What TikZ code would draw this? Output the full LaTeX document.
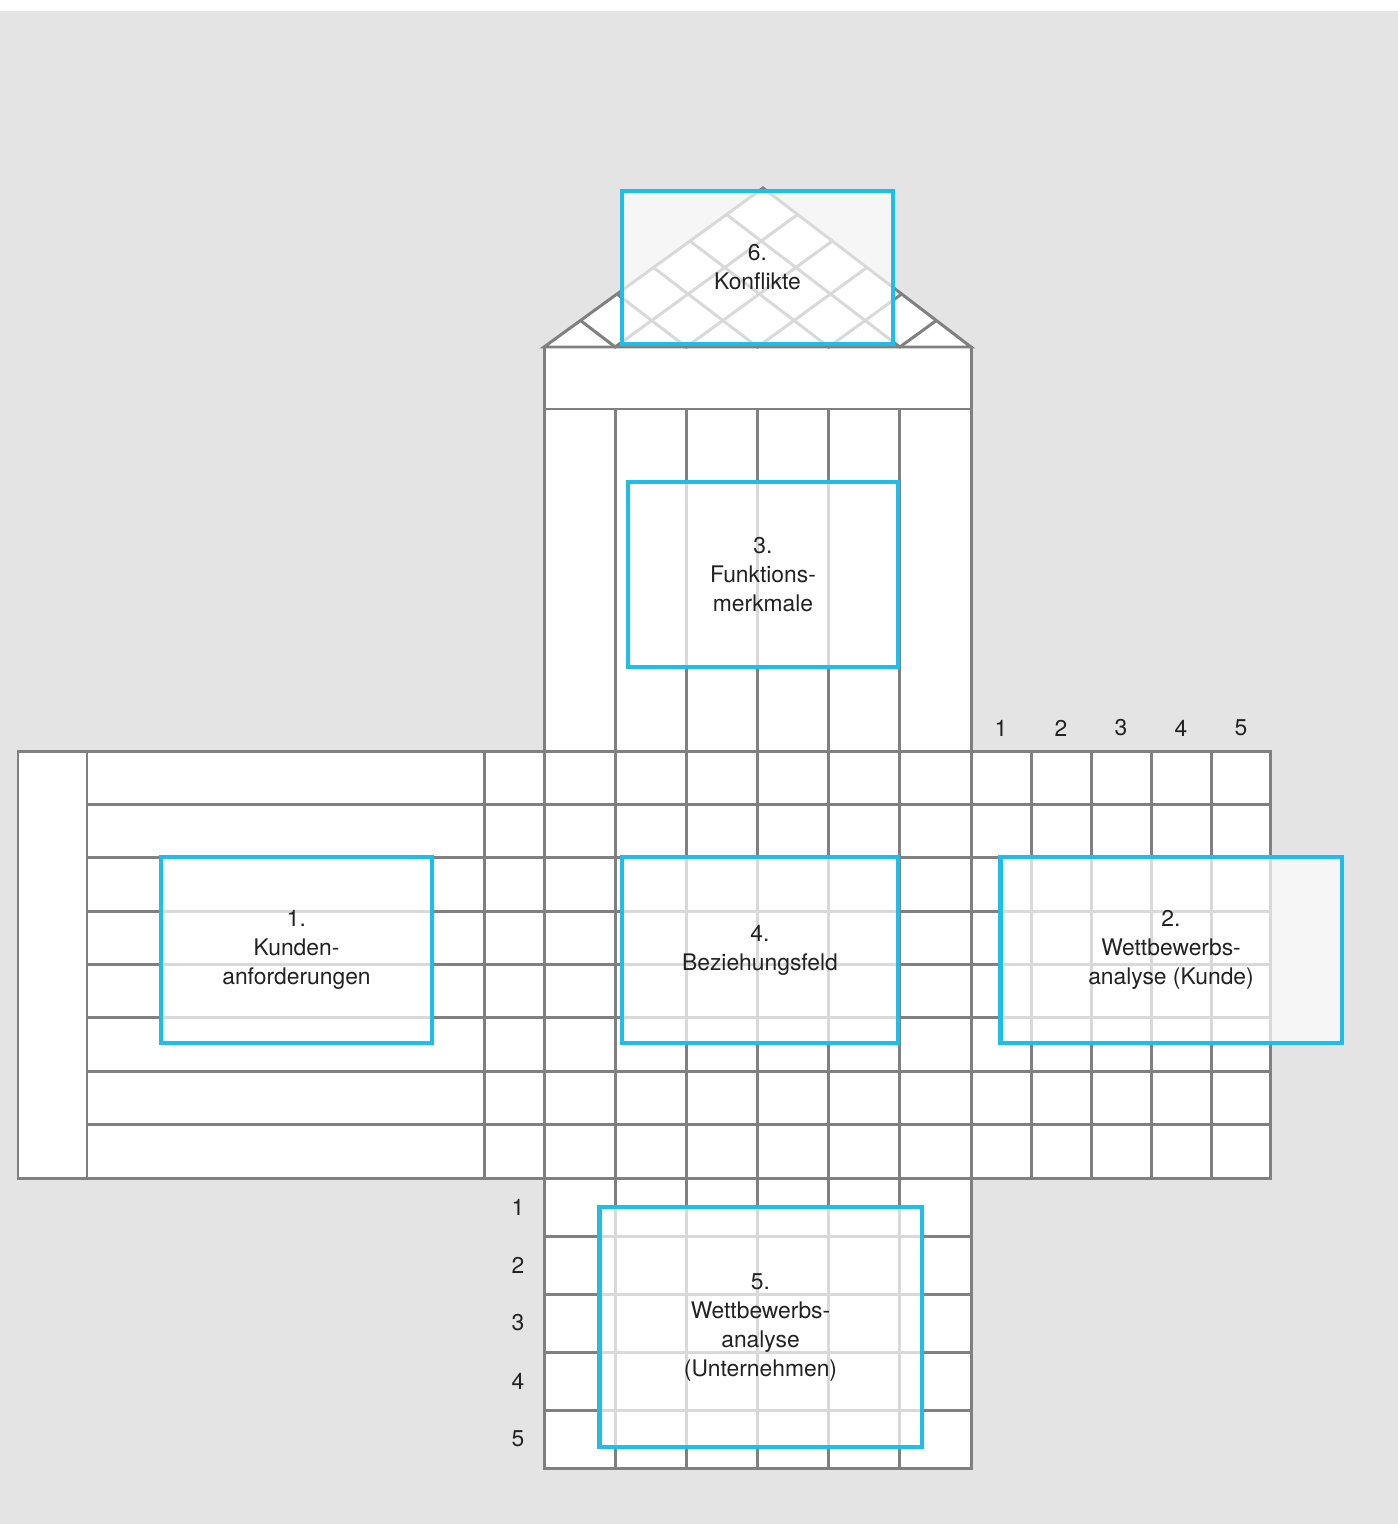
\documentclass[tikz,border=0pt]{standalone}
\usepackage{fontspec}
\setmainfont{TeX Gyre Heros}
\definecolor{qfdgray}{HTML}{808080}
\definecolor{qfdbg}{HTML}{E3E4E3}
\definecolor{qfdblue}{HTML}{1EBEE9}
\definecolor{qfdtext}{HTML}{222222}
\tikzset{
  grid/.style={draw=qfdgray,line width=1.7pt},
  qfdbox/.style={draw=qfdblue,line width=2.8pt,fill=white,fill opacity=0.7,text opacity=1,
    text=qfdtext,align=center,inner sep=0pt,font=\fontsize{13}{16.5}\selectfont},
  num/.style={text=qfdtext,font=\fontsize{13}{16.5}\selectfont}
}
\begin{document}
\begin{tikzpicture}[x=0.02cm,y=-0.02cm]
% background
\useasboundingbox (0,0) rectangle (1398,1524);
\fill[white] (0,0) rectangle (1398,11);
\fill[qfdbg] (0,11) rectangle (1398,1524);
% white areas
\fill[white] (18,751) rectangle (1270,1178);
\fill[white] (544,347) rectangle (971,1468);
% roof
\draw[grid,fill=white] (544,347) -- (763,188) -- (971,347) -- cycle;
\foreach \i in {1,...,5}
  \draw[grid] ({544+36.5*\i},{347-26.5*\i}) -- ({544+71.167*\i},347)
    -- ({971-34.667*(6-\i)},{347-26.5*(6-\i)});
% house body
\draw[grid] (18,751) rectangle (1270,1178);
\draw[grid] (544,347) rectangle (971,1468);
\draw[grid] (544,409) -- (971,409);
\foreach \i in {1,...,5}
  \draw[grid] ({544+71.167*\i},409) -- ({544+71.167*\i},1468);
\foreach \x in {87,484,1031,1091,1151,1211}
  \draw[grid] (\x,751) -- (\x,1178);
\foreach \i in {1,...,7}
  \draw[grid] (87,{751+53.375*\i}) -- (1270,{751+53.375*\i});
\foreach \i in {1,...,4}
  \draw[grid] (544,{1178+58*\i}) -- (971,{1178+58*\i});
% rating scales
\foreach \i in {1,...,5}
  \node[num] (kunde\i) at ({941+60*\i},728) {\i};
\foreach \i in {1,...,5}
  \node[num] (untern\i) at (518,{1149+58*\i}) {\i};
% areas
\node[qfdbox,minimum width=5.42cm,minimum height=3.06cm] (konflikte) at (757.5,267.5) {6.\\Konflikte};
\node[qfdbox,minimum width=5.40cm,minimum height=3.70cm] (merkmale) at (763,574.5) {3.\\Funktions-\\merkmale};
\node[qfdbox,minimum width=5.42cm,minimum height=3.72cm] (anford) at (296.5,950) {1.\\Kunden-\\anforderungen};
\node[qfdbox,minimum width=5.52cm,minimum height=3.72cm] (beziehung) at (760,950) {4.\\Beziehungsfeld};
\node[qfdbox,minimum width=6.84cm,minimum height=3.72cm] (wettkunde) at (1171,950) {2.\\Wettbewerbs-\\analyse (Kunde)};
\node[qfdbox,minimum width=6.46cm,minimum height=4.80cm] (wettuntern) at (760.5,1327) {5.\\Wettbewerbs-\\analyse\\(Unternehmen)};
\end{tikzpicture}
\end{document}
